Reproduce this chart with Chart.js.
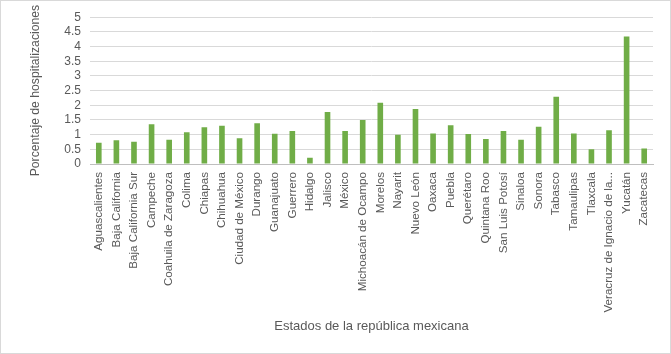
<!DOCTYPE html>
<html lang="es">
<head>
  <meta charset="UTF-8">
  <title>Porcentaje de hospitalizaciones</title>
  <style>
    body {
      margin: 0;
      padding: 0;
      background-color: #fff;
    }
    #chart-container {
      position: relative;
      width: 671px;
      height: 354px;
      box-sizing: border-box;
      border: 1px solid #d9d9d9;
      background-color: #ffffff;
    }
    canvas {
      display: block;
    }
  </style>
  <script src="https://cdn.jsdelivr.net/npm/chart.js"></script>
</head>
<body>
  <div id="chart-container">
    <canvas id="hospChart" width="669" height="352"></canvas>
  </div>
  <script>
    // Data
    const estados = [
      'Aguascalientes', 'Baja California', 'Baja California Sur', 'Campeche',
      'Coahuila de Zaragoza', 'Colima', 'Chiapas', 'Chihuahua', 'Ciudad de México',
      'Durango', 'Guanajuato', 'Guerrero', 'Hidalgo', 'Jalisco', 'México',
      'Michoacán de Ocampo', 'Morelos', 'Nayarit', 'Nuevo León', 'Oaxaca', 'Puebla',
      'Querétaro', 'Quintana Roo', 'San Luis Potosí', 'Sinaloa', 'Sonora', 'Tabasco',
      'Tamaulipas', 'Tlaxcala', 'Veracruz de Ignacio de la...', 'Yucatán', 'Zacatecas'
    ];
    const porcentajes = [
      0.72, 0.81, 0.76, 1.35, 0.83, 1.08, 1.25, 1.30, 0.88, 1.39, 1.03, 1.12,
      0.21, 1.77, 1.12, 1.50, 2.09, 1.00, 1.87, 1.04, 1.32, 1.02, 0.85, 1.12,
      0.83, 1.27, 2.29, 1.04, 0.50, 1.15, 4.34, 0.53
    ];
    const yMin = 0;
    const yMax = 5;
    const yStep = 0.5;

    const textColor = '#595959';
    const gridColor = '#d9d9d9';
    const fontFamily = "'Liberation Sans', 'DejaVu Sans', sans-serif";

    const ctx = document.getElementById('hospChart').getContext('2d');
    const hospChart = new Chart(ctx, {
      type: 'bar',
      data: {
        labels: estados,
        datasets: [
          {
            label: 'Porcentaje de hospitalizaciones',
            data: porcentajes,
            backgroundColor: '#70ad47',
            borderWidth: 0,
            barPercentage: 0.32,
            categoryPercentage: 1,
          },
        ],
      },
      options: {
        responsive: false,
        animation: false,
        layout: {
          padding: { left: 27, right: 17, top: 16, bottom: 19 },
        },
        plugins: {
          legend: { display: false },
          tooltip: { enabled: false },
        },
        scales: {
          x: {
            grid: { display: false, drawTicks: false },
            border: { color: '#bfbfbf' },
            ticks: {
              color: textColor,
              font: { family: fontFamily, size: 11.6 },
              minRotation: 90,
              maxRotation: 90,
              autoSkip: false,
              padding: 8,
            },
            title: {
              display: true,
              text: 'Estados de la república mexicana',
              color: textColor,
              font: { family: fontFamily, size: 13 },
              padding: 0,
            },
            afterFit: (scale) => { scale.height = 170; },
          },
          y: {
            min: yMin,
            max: yMax,
            grid: { color: gridColor, drawTicks: false },
            border: { display: false },
            ticks: {
              stepSize: yStep,
              autoSkip: false,
              color: textColor,
              font: { family: fontFamily, size: 12 },
              padding: 9,
              callback: (value) => String(value),
            },
            title: {
              display: true,
              text: 'Porcentaje de hospitalizaciones',
              color: textColor,
              font: { family: fontFamily, size: 12.2 },
              padding: 0,
            },
            afterFit: (scale) => { scale.width = 62; },
          },
        },
      },
    });
  </script>
</body>
</html>
